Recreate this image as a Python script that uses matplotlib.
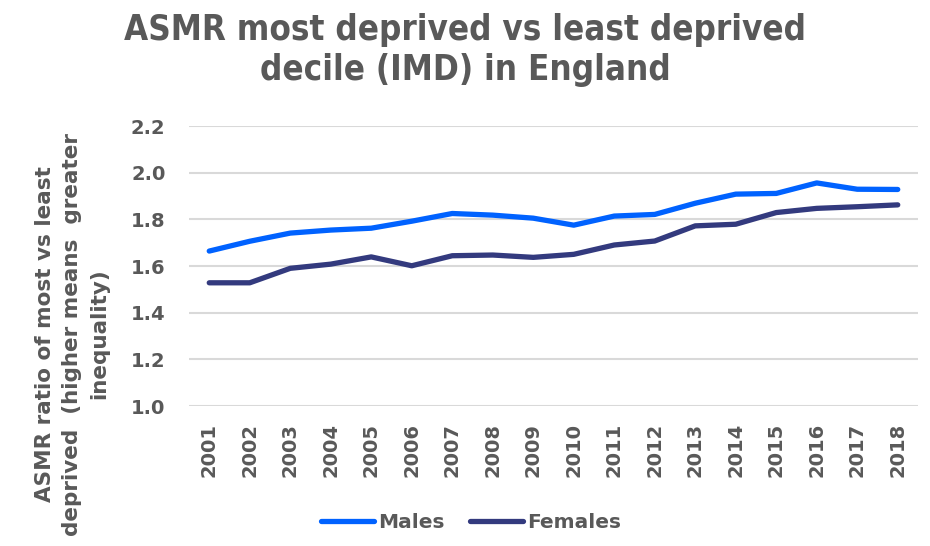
import numpy as np
import matplotlib
matplotlib.use('Agg')
import matplotlib.pyplot as plt

years = [str(y) for y in range(2001, 2019)]
males = [1.664, 1.706, 1.741, 1.754, 1.762, 1.792, 1.825, 1.818, 1.805,
         1.775, 1.814, 1.821, 1.869, 1.908, 1.911, 1.956, 1.929, 1.928]
females = [1.528, 1.528, 1.590, 1.608, 1.639, 1.601, 1.644, 1.647, 1.637,
           1.650, 1.690, 1.707, 1.772, 1.779, 1.829, 1.847, 1.854, 1.862]
yticks = [1.0, 1.2, 1.4, 1.6, 1.8, 2.0, 2.2]

grey = '#595959'
c_male = '#0062FF'
c_female = '#333A7E'

plt.rcParams['font.family'] = ['DejaVu Sans']

fig = plt.figure(figsize=(9.3, 5.46), dpi=100)
ax = fig.add_axes([189/930, 1-406/546, 729/930, 280/546])

x = np.arange(len(years))
ax.plot(x, males, color=c_male, lw=3.8, solid_capstyle='round', solid_joinstyle='round', label='Males', clip_on=False)
ax.plot(x, females, color=c_female, lw=3.8, solid_capstyle='round', solid_joinstyle='round', label='Females', clip_on=False)

ax.set_xlim(-0.5, len(years)-0.5)
ax.set_ylim(1.0, 2.2)
ax.set_yticks(yticks)
ax.set_yticklabels(['%.1f' % v for v in yticks])
ax.set_xticks(x)
ax.set_xticklabels(years, rotation=90)
ax.grid(axis='y', color='#D9D9D9', lw=1.5)
ax.set_axisbelow(True)
for s in ax.spines.values():
    s.set_visible(False)
ax.tick_params(length=0, labelcolor=grey, labelsize=14)
ax.tick_params(axis='y', pad=17)
ax.tick_params(axis='x', pad=12)
for t in ax.get_xticklabels() + ax.get_yticklabels():
    t.set_fontweight('bold')

# title in condensed bold
fig.text(0.5, 1-50/546, 'ASMR most deprived vs least deprived\ndecile (IMD) in England',
         ha='center', va='center', fontsize=25, fontweight='bold', color=grey,
         fontstretch='condensed', linespacing=1.2)

fig.text(72/930, 1-334/546, 'ASMR ratio of most vs least\ndeprived  (higher means  greater\ninequality)',
         rotation=90, ha='center', va='center', multialignment='center',
         fontsize=15.5, fontweight='bold', color=grey, linespacing=1.45)

leg = fig.legend(loc='center', bbox_to_anchor=(471/930, 1-523/546), ncol=2, frameon=False,
                 handlelength=2.6, handletextpad=0.2, columnspacing=1.3,
                 prop={'size': 14.5, 'weight': 'bold'})
for t in leg.get_texts():
    t.set_color(grey)

fig.savefig('out.png', dpi=100)
